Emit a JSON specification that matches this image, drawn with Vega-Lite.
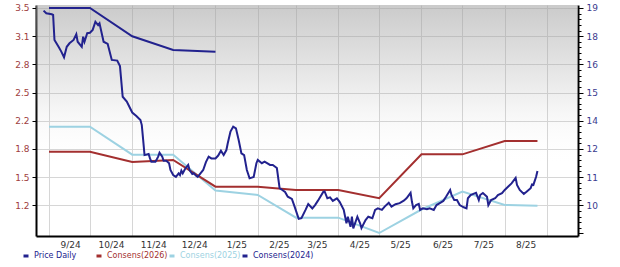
{
  "$schema": "https://vega.github.io/schema/vega-lite/v6.json",
  "autosize": {"type": "none"},
  "width": 542,
  "height": 231,
  "padding": {"left": 36, "top": 5, "right": 42, "bottom": 31},
  "background": "#ffffff",
  "config": {"view": {"stroke": null}, "font": "DejaVu Sans"},
  "datasets": {
    "price": [
      {"date": "2024-08-28", "price": 18.88}, {"date": "2024-08-30", "price": 18.76},
      {"date": "2024-09-03", "price": 18.71}, {"date": "2024-09-04", "price": 18.68},
      {"date": "2024-09-05", "price": 17.54}, {"date": "2024-09-08", "price": 17.23},
      {"date": "2024-09-10", "price": 17.01}, {"date": "2024-09-12", "price": 16.75},
      {"date": "2024-09-14", "price": 17.23}, {"date": "2024-09-16", "price": 17.39},
      {"date": "2024-09-19", "price": 17.54}, {"date": "2024-09-21", "price": 17.80},
      {"date": "2024-09-22", "price": 17.46}, {"date": "2024-09-25", "price": 17.23},
      {"date": "2024-09-26", "price": 17.69}, {"date": "2024-09-27", "price": 17.46},
      {"date": "2024-09-29", "price": 17.85}, {"date": "2024-10-01", "price": 17.87},
      {"date": "2024-10-03", "price": 18.00}, {"date": "2024-10-05", "price": 18.37},
      {"date": "2024-10-07", "price": 18.22}, {"date": "2024-10-08", "price": 18.30},
      {"date": "2024-10-11", "price": 17.46}, {"date": "2024-10-14", "price": 17.36},
      {"date": "2024-10-17", "price": 16.63}, {"date": "2024-10-21", "price": 16.60},
      {"date": "2024-10-23", "price": 16.35}, {"date": "2024-10-25", "price": 14.95},
      {"date": "2024-10-28", "price": 14.73}, {"date": "2024-11-01", "price": 14.23},
      {"date": "2024-11-04", "price": 14.07}, {"date": "2024-11-07", "price": 13.89},
      {"date": "2024-11-08", "price": 13.66}, {"date": "2024-11-09", "price": 12.98},
      {"date": "2024-11-10", "price": 12.29}, {"date": "2024-11-13", "price": 12.34},
      {"date": "2024-11-14", "price": 12.14}, {"date": "2024-11-15", "price": 11.99},
      {"date": "2024-11-18", "price": 11.99}, {"date": "2024-11-19", "price": 12.10},
      {"date": "2024-11-20", "price": 12.22}, {"date": "2024-11-21", "price": 12.40},
      {"date": "2024-11-23", "price": 12.22}, {"date": "2024-11-24", "price": 12.03},
      {"date": "2024-11-26", "price": 12.03}, {"date": "2024-11-28", "price": 11.92},
      {"date": "2024-11-29", "price": 11.61}, {"date": "2024-12-01", "price": 11.38},
      {"date": "2024-12-03", "price": 11.30}, {"date": "2024-12-05", "price": 11.46},
      {"date": "2024-12-06", "price": 11.38}, {"date": "2024-12-07", "price": 11.58},
      {"date": "2024-12-08", "price": 11.46}, {"date": "2024-12-10", "price": 11.69},
      {"date": "2024-12-12", "price": 11.84}, {"date": "2024-12-13", "price": 11.61},
      {"date": "2024-12-15", "price": 11.43}, {"date": "2024-12-16", "price": 11.46},
      {"date": "2024-12-18", "price": 11.34}, {"date": "2024-12-19", "price": 11.30},
      {"date": "2024-12-21", "price": 11.46}, {"date": "2024-12-23", "price": 11.61},
      {"date": "2024-12-25", "price": 11.97}, {"date": "2024-12-27", "price": 12.22},
      {"date": "2024-12-29", "price": 12.14}, {"date": "2025-01-01", "price": 12.14},
      {"date": "2025-01-03", "price": 12.27}, {"date": "2025-01-05", "price": 12.49},
      {"date": "2025-01-07", "price": 12.29}, {"date": "2025-01-09", "price": 12.52},
      {"date": "2025-01-10", "price": 12.83}, {"date": "2025-01-12", "price": 13.36},
      {"date": "2025-01-14", "price": 13.59}, {"date": "2025-01-16", "price": 13.51},
      {"date": "2025-01-18", "price": 12.98}, {"date": "2025-01-20", "price": 12.37},
      {"date": "2025-01-22", "price": 12.29}, {"date": "2025-01-24", "price": 11.61},
      {"date": "2025-01-26", "price": 11.23}, {"date": "2025-01-29", "price": 11.29},
      {"date": "2025-01-31", "price": 11.92}, {"date": "2025-02-01", "price": 12.07},
      {"date": "2025-02-04", "price": 11.92}, {"date": "2025-02-06", "price": 11.99},
      {"date": "2025-02-10", "price": 11.84}, {"date": "2025-02-12", "price": 11.84},
      {"date": "2025-02-15", "price": 11.70}, {"date": "2025-02-17", "price": 10.78},
      {"date": "2025-02-19", "price": 10.70}, {"date": "2025-02-21", "price": 10.61},
      {"date": "2025-02-23", "price": 10.39}, {"date": "2025-02-26", "price": 10.29},
      {"date": "2025-02-28", "price": 9.94}, {"date": "2025-03-03", "price": 9.38},
      {"date": "2025-03-05", "price": 9.41}, {"date": "2025-03-08", "price": 9.79},
      {"date": "2025-03-10", "price": 10.06}, {"date": "2025-03-13", "price": 9.86},
      {"date": "2025-03-15", "price": 10.01}, {"date": "2025-03-17", "price": 10.20},
      {"date": "2025-03-21", "price": 10.61}, {"date": "2025-03-22", "price": 10.63},
      {"date": "2025-03-24", "price": 10.32}, {"date": "2025-03-26", "price": 10.36},
      {"date": "2025-03-28", "price": 10.20}, {"date": "2025-03-31", "price": 10.32},
      {"date": "2025-04-02", "price": 10.16}, {"date": "2025-04-05", "price": 9.79},
      {"date": "2025-04-07", "price": 9.18}, {"date": "2025-04-08", "price": 9.48},
      {"date": "2025-04-10", "price": 9.02}, {"date": "2025-04-11", "price": 9.48},
      {"date": "2025-04-12", "price": 8.95}, {"date": "2025-04-15", "price": 9.48},
      {"date": "2025-04-17", "price": 9.18}, {"date": "2025-04-18", "price": 8.96},
      {"date": "2025-04-21", "price": 9.33}, {"date": "2025-04-23", "price": 9.48},
      {"date": "2025-04-26", "price": 9.41}, {"date": "2025-04-28", "price": 9.79},
      {"date": "2025-04-30", "price": 9.86}, {"date": "2025-05-03", "price": 9.79},
      {"date": "2025-05-05", "price": 9.94}, {"date": "2025-05-08", "price": 10.12},
      {"date": "2025-05-10", "price": 9.94}, {"date": "2025-05-13", "price": 10.05},
      {"date": "2025-05-16", "price": 10.10}, {"date": "2025-05-19", "price": 10.21},
      {"date": "2025-05-21", "price": 10.32}, {"date": "2025-05-24", "price": 10.57},
      {"date": "2025-05-25", "price": 10.16}, {"date": "2025-05-26", "price": 9.86},
      {"date": "2025-05-28", "price": 10.01}, {"date": "2025-05-30", "price": 10.06},
      {"date": "2025-05-31", "price": 9.79}, {"date": "2025-06-02", "price": 9.86},
      {"date": "2025-06-05", "price": 9.82}, {"date": "2025-06-07", "price": 9.86},
      {"date": "2025-06-10", "price": 9.79}, {"date": "2025-06-12", "price": 10.01},
      {"date": "2025-06-15", "price": 10.12}, {"date": "2025-06-17", "price": 10.20},
      {"date": "2025-06-19", "price": 10.39}, {"date": "2025-06-22", "price": 10.70},
      {"date": "2025-06-23", "price": 10.47}, {"date": "2025-06-25", "price": 10.24},
      {"date": "2025-06-27", "price": 10.24}, {"date": "2025-06-29", "price": 10.01},
      {"date": "2025-07-02", "price": 9.91}, {"date": "2025-07-04", "price": 9.86},
      {"date": "2025-07-05", "price": 10.32}, {"date": "2025-07-07", "price": 10.47},
      {"date": "2025-07-09", "price": 10.52}, {"date": "2025-07-11", "price": 10.57},
      {"date": "2025-07-13", "price": 10.24}, {"date": "2025-07-14", "price": 10.47},
      {"date": "2025-07-16", "price": 10.56}, {"date": "2025-07-19", "price": 10.39},
      {"date": "2025-07-20", "price": 10.01}, {"date": "2025-07-22", "price": 10.24},
      {"date": "2025-07-25", "price": 10.32}, {"date": "2025-07-27", "price": 10.47},
      {"date": "2025-07-30", "price": 10.55}, {"date": "2025-08-01", "price": 10.70},
      {"date": "2025-08-04", "price": 10.88}, {"date": "2025-08-06", "price": 11.00},
      {"date": "2025-08-09", "price": 11.25}, {"date": "2025-08-10", "price": 10.93},
      {"date": "2025-08-12", "price": 10.70}, {"date": "2025-08-15", "price": 10.52},
      {"date": "2025-08-17", "price": 10.62}, {"date": "2025-08-20", "price": 10.78},
      {"date": "2025-08-21", "price": 10.95}, {"date": "2025-08-22", "price": 10.93},
      {"date": "2025-08-24", "price": 11.30}, {"date": "2025-08-25", "price": 11.56}
    ],
    "consensus": [
      {"date": "2024-09-01", "series": "Consens(2024)", "eps": 3.50},
      {"date": "2024-10-01", "series": "Consens(2024)", "eps": 3.50},
      {"date": "2024-11-01", "series": "Consens(2024)", "eps": 3.17},
      {"date": "2024-12-01", "series": "Consens(2024)", "eps": 3.01},
      {"date": "2025-01-01", "series": "Consens(2024)", "eps": 2.99},
      {"date": "2024-09-01", "series": "Consens(2025)", "eps": 2.116},
      {"date": "2024-10-01", "series": "Consens(2025)", "eps": 2.116},
      {"date": "2024-11-01", "series": "Consens(2025)", "eps": 1.79},
      {"date": "2024-12-01", "series": "Consens(2025)", "eps": 1.79},
      {"date": "2025-01-01", "series": "Consens(2025)", "eps": 1.373},
      {"date": "2025-02-01", "series": "Consens(2025)", "eps": 1.32},
      {"date": "2025-03-01", "series": "Consens(2025)", "eps": 1.056},
      {"date": "2025-04-01", "series": "Consens(2025)", "eps": 1.056},
      {"date": "2025-05-01", "series": "Consens(2025)", "eps": 0.877},
      {"date": "2025-06-01", "series": "Consens(2025)", "eps": 1.151},
      {"date": "2025-07-01", "series": "Consens(2025)", "eps": 1.359},
      {"date": "2025-08-01", "series": "Consens(2025)", "eps": 1.204},
      {"date": "2025-08-25", "series": "Consens(2025)", "eps": 1.194},
      {"date": "2024-09-01", "series": "Consens(2026)", "eps": 1.825},
      {"date": "2024-10-01", "series": "Consens(2026)", "eps": 1.825},
      {"date": "2024-11-01", "series": "Consens(2026)", "eps": 1.705},
      {"date": "2024-12-01", "series": "Consens(2026)", "eps": 1.728},
      {"date": "2025-01-01", "series": "Consens(2026)", "eps": 1.417},
      {"date": "2025-02-01", "series": "Consens(2026)", "eps": 1.417},
      {"date": "2025-03-01", "series": "Consens(2026)", "eps": 1.378},
      {"date": "2025-04-01", "series": "Consens(2026)", "eps": 1.378},
      {"date": "2025-05-01", "series": "Consens(2026)", "eps": 1.282},
      {"date": "2025-06-01", "series": "Consens(2026)", "eps": 1.794},
      {"date": "2025-07-01", "series": "Consens(2026)", "eps": 1.794},
      {"date": "2025-08-01", "series": "Consens(2026)", "eps": 1.95},
      {"date": "2025-08-25", "series": "Consens(2026)", "eps": 1.95}
    ]
  },
  "layer": [
    {
      "layer": [
        {
          "data": {"values": [{}]},
          "mark": {
            "type": "rect",
            "color": {
              "gradient": "linear", "x1": 0, "y1": 0, "x2": 0, "y2": 1,
              "stops": [
                {"offset": 0, "color": "rgba(160,160,160,0.55)"},
                {"offset": 0.45, "color": "rgba(160,160,160,0.1)"},
                {"offset": 0.7, "color": "rgba(255,255,255,0)"}
              ]
            }
          },
          "encoding": {
            "x": {
              "datum": {"year": 2024, "month": 8, "date": 22, "hours": 11, "utc": true},
              "type": "temporal",
              "scale": {
                "type": "utc",
                "domain": [
                  {"year": 2024, "month": 8, "date": 22, "hours": 11, "utc": true},
                  {"year": 2025, "month": 9, "date": 23, "hours": 17, "utc": true}
                ]
              },
              "axis": {
                "title": null,
                "values": [
                  {"year": 2024, "month": 9, "date": 1, "utc": true},
                  {"year": 2024, "month": 10, "date": 1, "utc": true},
                  {"year": 2024, "month": 11, "date": 1, "utc": true},
                  {"year": 2024, "month": 12, "date": 1, "utc": true},
                  {"year": 2025, "month": 1, "date": 1, "utc": true},
                  {"year": 2025, "month": 2, "date": 1, "utc": true},
                  {"year": 2025, "month": 3, "date": 1, "utc": true},
                  {"year": 2025, "month": 4, "date": 1, "utc": true},
                  {"year": 2025, "month": 5, "date": 1, "utc": true},
                  {"year": 2025, "month": 6, "date": 1, "utc": true},
                  {"year": 2025, "month": 7, "date": 1, "utc": true},
                  {"year": 2025, "month": 8, "date": 1, "utc": true},
                  {"year": 2025, "month": 9, "date": 1, "utc": true}
                ],
                "labelExpr": "datum.value >= utc(2025, 7, 15) ? '' : utcFormat(datum.value, '%-m/%y')",
                "labelOffset": 21,
                "labelAlign": "center",
                "labelFontSize": 9,
                "labelColor": "#333333",
                "labelPadding": 4,
                "labelFlush": false,
                "labelOverlap": false,
                "ticks": false,
                "grid": true,
                "gridColor": "#d6d6d6",
                "gridWidth": 1,
                "domainColor": "#000000",
                "domainWidth": 2
              }
            },
            "x2": {"datum": {"year": 2025, "month": 9, "date": 23, "hours": 17, "utc": true}},
            "y": {
              "datum": 3.5346,
              "type": "quantitative",
              "scale": {"domain": [0.8422, 3.5346], "nice": false, "zero": false},
              "axis": {
                "title": null,
                "orient": "left",
                "values": [1.2, 1.528571, 1.857143, 2.185714, 2.514286, 2.842857, 3.171429, 3.5],
                "labelExpr": "['1.2','1.5','1.8','2.2','2.5','2.8','3.1','3.5'][round((datum.value - 1.2) / 0.328571)]",
                "labelFontSize": 9,
                "labelColor": "#9e3d3d",
                "labelPadding": 3,
                "labelFlush": false,
                "labelOverlap": false,
                "tickSize": 4,
                "tickColor": "#000000",
                "grid": true,
                "gridColor": "#d6d6d6",
                "domainColor": "#000000",
                "domainWidth": 2
              }
            },
            "y2": {"datum": 0.8422}
          }
        },
        {
          "data": {"name": "consensus"},
          "mark": {"type": "line", "strokeWidth": 2},
          "encoding": {
            "x": {"field": "date", "type": "temporal"},
            "y": {
              "field": "eps",
              "type": "quantitative",
              "axis": {
                "title": null,
                "orient": "left",
                "values": [1.2, 1.528571, 1.857143, 2.185714, 2.514286, 2.842857, 3.171429, 3.5],
                "labelExpr": "['1.2','1.5','1.8','2.2','2.5','2.8','3.1','3.5'][round((datum.value - 1.2) / 0.328571)]",
                "labelFontSize": 9,
                "labelColor": "#9e3d3d",
                "labelPadding": 3,
                "labelFlush": false,
                "labelOverlap": false,
                "tickSize": 4,
                "tickColor": "#000000",
                "grid": true,
                "gridColor": "#d6d6d6",
                "domainColor": "#000000",
                "domainWidth": 2
              }
            },
            "color": {
              "field": "series",
              "type": "nominal",
              "scale": {
                "domain": ["Price Daily", "Consens(2026)", "Consens(2025)", "Consens(2024)"],
                "range": ["#22228e", "#a32f2f", "#9dd2e2", "#22228e"]
              },
              "legend": {
                "title": null,
                "orient": "none",
                "legendX": -14,
                "legendY": 247,
                "direction": "horizontal",
                "columns": 4,
                "gridAlign": "all",
                "columnPadding": -5,
                "symbolType": "stroke",
                "symbolStrokeWidth": 3,
                "symbolSize": 25,
                "labelFontSize": 8,
                "labelOffset": 4,
                "encode": {"labels": {"update": {"fill": {"scale": "color", "field": "value"}}}}
              }
            },
            "detail": {"field": "series"}
          }
        }
      ]
    },
    {
      "data": {"name": "price"},
      "mark": {"type": "line", "strokeWidth": 2},
      "encoding": {
        "x": {"field": "date", "type": "temporal"},
        "y": {
          "field": "price",
          "type": "quantitative",
          "scale": {"domain": [8.6, 19.1355], "nice": false, "zero": false},
          "axis": {
            "title": null,
            "orient": "right",
            "grid": false,
            "values": [8.714286, 8.971429, 9.228571, 9.485714, 9.742857, 10, 10.257143, 10.514286, 10.771429, 11.028571, 11.285714, 11.542857, 11.8, 12.057143, 12.314286, 12.571429, 12.828571, 13.085714, 13.342857, 13.6, 13.857143, 14.114286, 14.371429, 14.628571, 14.885714, 15.142857, 15.4, 15.657143, 15.914286, 16.171429, 16.428571, 16.685714, 16.942857, 17.2, 17.457143, 17.714286, 17.971429, 18.228571, 18.485714, 18.742857, 19],
            "labelExpr": "abs((datum.value - 10) / 1.285714 - round((datum.value - 10) / 1.285714)) < 0.02 ? ['10','11','12','14','15','16','18','19'][round((datum.value - 10) / 1.285714)] : ''",
            "tickSize": {"condition": {"test": "abs((datum.value - 10) / 1.285714 - round((datum.value - 10) / 1.285714)) < 0.02", "value": 5}, "value": 3},
            "tickColor": "#000000",
            "labelFontSize": 9,
            "labelColor": "#3a3a8e",
            "labelPadding": 3,
            "labelFlush": false,
            "labelOverlap": false,
            "labelBound": false,
            "domainColor": "#000000",
            "domainWidth": 2
          }
        },
        "color": {
          "datum": "Price Daily",
          "type": "nominal",
          "legend": {
            "title": null,
            "orient": "none",
            "legendX": -14,
            "legendY": 247,
            "direction": "horizontal",
            "columns": 4,
            "gridAlign": "all",
            "columnPadding": -5,
            "symbolType": "stroke",
            "symbolStrokeWidth": 3,
            "symbolSize": 25,
            "labelFontSize": 8,
            "labelOffset": 4,
            "encode": {"labels": {"update": {"fill": {"scale": "color", "field": "value"}}}}
          }
        }
      }
    }
  ],
  "resolve": {"scale": {"y": "independent"}}
}
